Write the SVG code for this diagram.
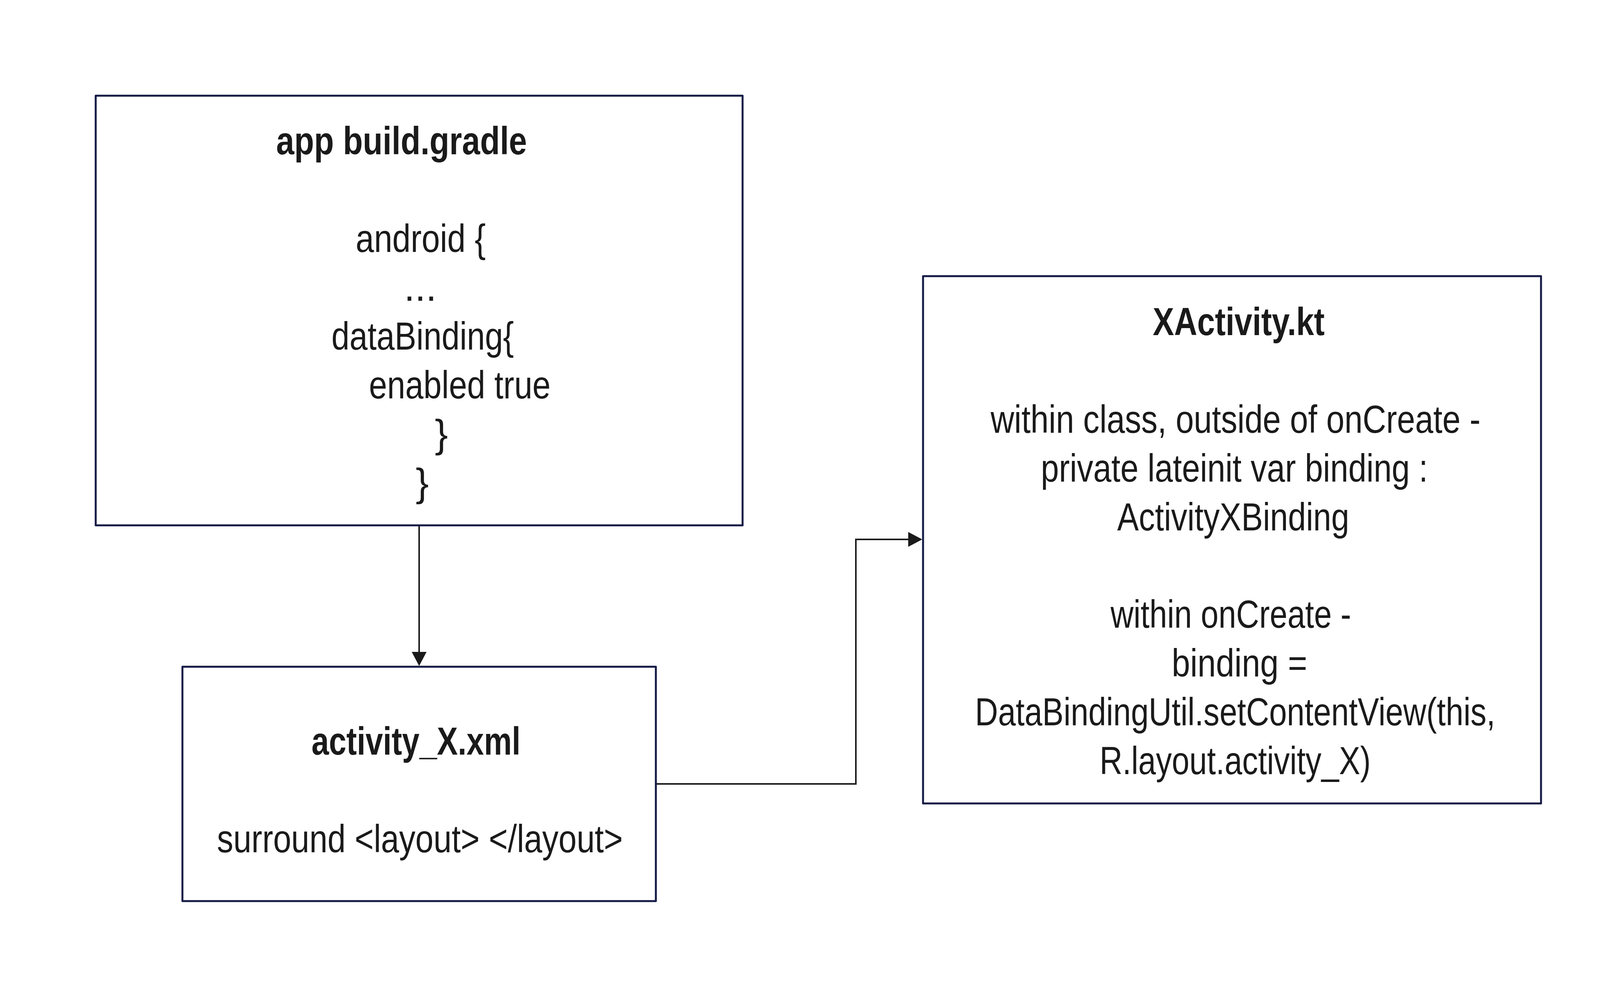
<svg xmlns="http://www.w3.org/2000/svg" width="4188" height="2550" viewBox="0 0 4188 2550">
  <style>
    .box { fill: #ffffff; stroke: #141a45; stroke-width: 5; stroke-linejoin: round; }
    .t { font-family: "Liberation Sans Narrow", "Arial Narrow", "Liberation Sans", Arial, sans-serif; font-stretch: condensed; font-size: 100px; fill: #1a1a1a; text-anchor: middle; }
    .b { font-weight: bold; }
    .conn { fill: none; stroke: #1a1a1a; stroke-width: 4; stroke-linejoin: miter; }
  </style>
  <defs>
    <marker id="arrow" viewBox="0 0 36 38" refX="0" refY="19" markerWidth="36" markerHeight="38" markerUnits="userSpaceOnUse" orient="auto">
      <path d="M0,0 L36,19 L0,38 Z" fill="#1a1a1a"/>
    </marker>
  </defs>
  <rect width="4188" height="2550" fill="#ffffff"/>

  <g id="connectors">
    <path class="conn" d="M1073,1345 L1073,1669" marker-end="url(#arrow)"/>
    <path class="conn" d="M1679,2007 L2191,2007 L2191,1381 L2325,1381" marker-end="url(#arrow)"/>
  </g>

  <g id="node-build-gradle">
    <rect class="box" x="245" y="245" width="1656" height="1100"/>
    <text class="t b" x="1028" y="395" textLength="642" lengthAdjust="spacingAndGlyphs">app build.gradle</text>
    <text class="t" x="1077" y="645" textLength="333" lengthAdjust="spacingAndGlyphs">android {</text>
    <text class="t" x="1076" y="770">...</text>
    <text class="t" x="1082" y="895" textLength="467" lengthAdjust="spacingAndGlyphs">dataBinding{</text>
    <text class="t" x="1177" y="1020" textLength="465" lengthAdjust="spacingAndGlyphs">enabled true</text>
    <text class="t" x="1130" y="1145">}</text>
    <text class="t" x="1081" y="1270">}</text>
  </g>

  <g id="node-activity-xml">
    <rect class="box" x="467" y="1707" width="1212" height="600"/>
    <text class="t b" x="1065" y="1932" textLength="535" lengthAdjust="spacingAndGlyphs">activity_X.xml</text>
    <text class="t" x="1075" y="2182" textLength="1039" lengthAdjust="spacingAndGlyphs">surround &lt;layout&gt; &lt;/layout&gt;</text>
  </g>

  <g id="node-xactivity-kt">
    <rect class="box" x="2363" y="707" width="1582" height="1350"/>
    <text class="t b" x="3171" y="858" textLength="440" lengthAdjust="spacingAndGlyphs">XActivity.kt</text>
    <text class="t" x="3163" y="1108" textLength="1254" lengthAdjust="spacingAndGlyphs">within class, outside of onCreate -</text>
    <text class="t" x="3160" y="1233" textLength="991" lengthAdjust="spacingAndGlyphs">private lateinit var binding :</text>
    <text class="t" x="3157" y="1358" textLength="594" lengthAdjust="spacingAndGlyphs">ActivityXBinding</text>
    <text class="t" x="3151" y="1607" textLength="616" lengthAdjust="spacingAndGlyphs">within onCreate -</text>
    <text class="t" x="3173" y="1732" textLength="347" lengthAdjust="spacingAndGlyphs">binding =</text>
    <text class="t" x="3162" y="1857" textLength="1332" lengthAdjust="spacingAndGlyphs">DataBindingUtil.setContentView(this,</text>
    <text class="t" x="3162" y="1982" textLength="694" lengthAdjust="spacingAndGlyphs">R.layout.activity_X)</text>
  </g>
</svg>
